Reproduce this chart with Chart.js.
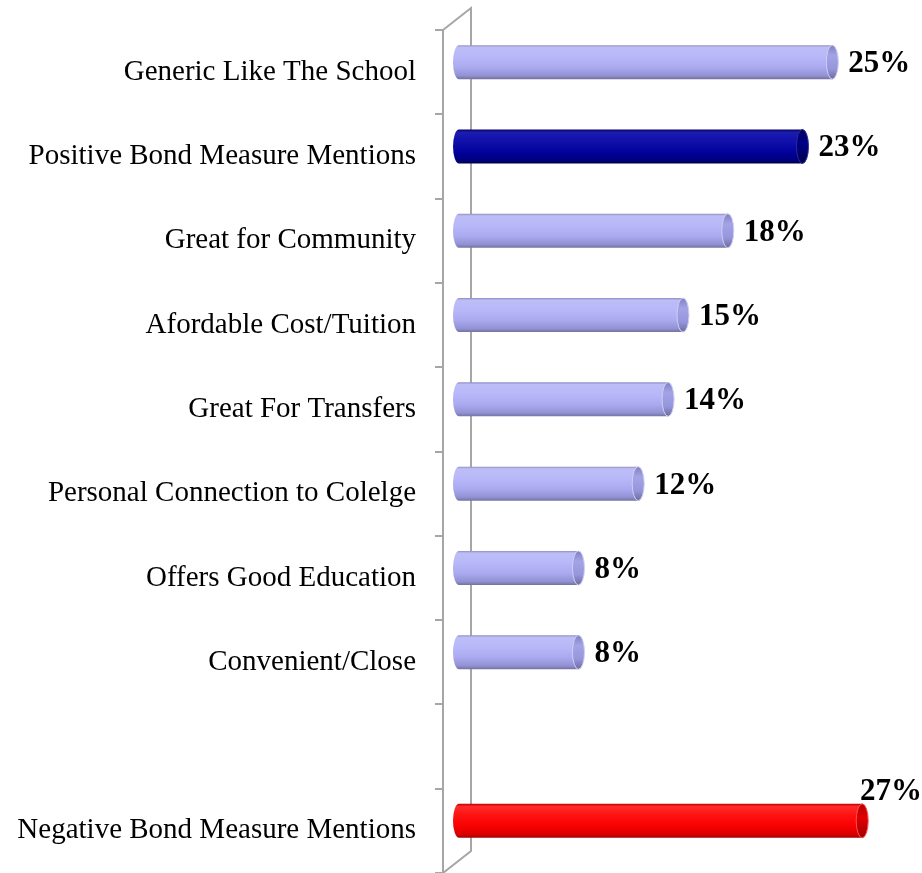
<!DOCTYPE html>
<html>
<head>
<meta charset="utf-8">
<script src="https://cdn.jsdelivr.net/npm/chart.js@4.4.1/dist/chart.umd.min.js"></script>
<style>
    html, body { margin: 0; padding: 0; background: #fff; overflow: hidden; }
    #wrap { width: 922px; height: 873px; position: relative; }
</style>
</head>
<body>
<div id="wrap"><canvas id="reasonsChart"></canvas></div>
<script>
// Reasons mentioned, share of respondents (%)
const categories = [
    'Generic Like The School',
    'Positive Bond Measure Mentions',
    'Great for Community',
    'Afordable Cost/Tuition',
    'Great For Transfers',
    'Personal Connection to Colelge',
    'Offers Good Education',
    'Convenient/Close',
    '',
    'Negative Bond Measure Mentions'
];
const shares = [25, 23, 18, 15, 14, 12, 8, 8, null, 27];

// Cylinder shading per tone
const SHADES = {
    light: {
        body: [[0, '#8e8ec4'], [0.06, '#bdbdf6'], [0.3, '#b9b9fa'], [0.65, '#abaaf0'], [0.9, '#9191d4'], [1, '#73739e']],
        cap: [[0, '#8080c0'], [0.3, '#a3a3e6'], [0.7, '#9696dc'], [1, '#6c6ca0']],
        rim: '#cfcff2'
    },
    navy: {
        body: [[0, '#000060'], [0.08, '#1c1cb0'], [0.35, '#1010aa'], [0.7, '#00009a'], [0.92, '#000078'], [1, '#00004a']],
        cap: [[0, '#00005a'], [0.4, '#000088'], [1, '#000048']],
        rim: '#2a2a99'
    },
    red: {
        body: [[0, '#c00000'], [0.08, '#ff2a2a'], [0.35, '#ff1010'], [0.7, '#f40000'], [0.92, '#d40000'], [1, '#a00000']],
        cap: [[0, '#b00000'], [0.4, '#e00000'], [1, '#a00000']],
        rim: '#ff5050'
    }
};
const barTone = {
    'Positive Bond Measure Mentions': 'navy',
    'Negative Bond Measure Mentions': 'red'
};

const BAR_PCT = 0.403;
const DEPTH_X = 16, DEPTH_Y = -10;   // bars sit inside the 3D wall
const WALL_X = 28, WALL_Y = -22;     // back edge of the wall
const CAP_RX = 6;
const LABEL_GAP = 10;
const WALL_COLOR = '#a6a6a6';

function toneFor(i) {
    return SHADES[barTone[categories[i]] || 'light'];
}

function vGradient(ctx, top, bottom, stops) {
    const g = ctx.createLinearGradient(0, top, 0, bottom);
    stops.forEach(([p, c]) => g.addColorStop(p, c));
    return g;
}

function barBounds(chart, i) {
    const y = chart.scales.y;
    const step = Math.abs(y.getPixelForValue(1) - y.getPixelForValue(0));
    const h = step * BAR_PCT;
    const c = y.getPixelForValue(i);
    return { top: c - h / 2, bottom: c + h / 2 };
}

const cylinderPlugin = {
    id: 'cylinders',
    beforeDatasetsDraw(chart) {
        const { ctx, chartArea: a } = chart;
        // back wall outline
        ctx.save();
        ctx.strokeStyle = WALL_COLOR;
        ctx.lineWidth = 2;
        ctx.beginPath();
        ctx.moveTo(a.left, a.top);
        ctx.lineTo(a.left + WALL_X, a.top + WALL_Y);
        ctx.lineTo(a.left + WALL_X, a.bottom + WALL_Y);
        ctx.lineTo(a.left, a.bottom);
        ctx.stroke();
        ctx.restore();

        ctx.save();
        ctx.translate(DEPTH_X, DEPTH_Y);
    },
    afterDatasetsDraw(chart) {
        const ctx = chart.ctx;
        const meta = chart.getDatasetMeta(0);
        meta.data.forEach((bar, i) => {
            if (shares[i] == null) return;
            const tone = toneFor(i);
            const { x, y, base, height } = bar.getProps(['x', 'y', 'base', 'height'], true);
            const top = y - height / 2, bottom = y + height / 2;
            // rounded back end
            ctx.fillStyle = vGradient(ctx, top, bottom, tone.body);
            ctx.beginPath();
            ctx.ellipse(base, y, CAP_RX, height / 2, 0, Math.PI / 2, Math.PI * 1.5);
            ctx.fill();
            // front cap
            ctx.fillStyle = vGradient(ctx, top, bottom, tone.cap);
            ctx.beginPath();
            ctx.ellipse(x, y, CAP_RX, height / 2, 0, 0, Math.PI * 2);
            ctx.fill();
            ctx.strokeStyle = tone.rim;
            ctx.lineWidth = 1;
            ctx.stroke();
        });
        ctx.restore();

        // value labels
        ctx.save();
        ctx.font = 'bold 31px "Liberation Serif", "Times New Roman", serif';
        ctx.fillStyle = '#000';
        ctx.textBaseline = 'middle';
        ctx.textAlign = 'left';
        meta.data.forEach((bar, i) => {
            if (shares[i] == null) return;
            const text = shares[i] + '%';
            const w = ctx.measureText(text).width;
            let tx = bar.x + DEPTH_X + CAP_RX + LABEL_GAP;
            let ty = bar.y + DEPTH_Y + 2;
            if (tx + w > chart.width) {
                // no room on the right: sit on top of the bar end
                tx = chart.width - w;
                ty = bar.y + DEPTH_Y - bar.height / 2 - 12;
            }
            ctx.fillText(text, tx, ty);
        });
        ctx.restore();
    }
};

new Chart(document.getElementById('reasonsChart'), {
    type: 'bar',
    data: {
        labels: categories,
        datasets: [{
            data: shares,
            backgroundColor: (c) => {
                const chart = c.chart;
                if (!chart.chartArea) return '#aaaaee';
                const b = barBounds(chart, c.dataIndex);
                return vGradient(chart.ctx, b.top, b.bottom, toneFor(c.dataIndex).body);
            },
            borderWidth: 0,
            barPercentage: BAR_PCT,
            categoryPercentage: 1,
            clip: false
        }]
    },
    options: {
        indexAxis: 'y',
        responsive: true,
        maintainAspectRatio: false,
        animation: false,
        layout: { padding: { top: 30, right: 31, bottom: 0, left: 0 } },
        plugins: {
            legend: { display: false },
            tooltip: { enabled: false }
        },
        scales: {
            x: { display: false, min: 0, max: 30 },
            y: {
                offset: true,
                afterFit: (s) => {
                    s.width = 443;
                    s.paddingTop = 0;
                    s.paddingBottom = 0;
                },
                grid: {
                    offset: true,
                    drawOnChartArea: false,
                    tickLength: 8,
                    color: WALL_COLOR,
                    lineWidth: 2
                },
                border: { display: true, color: WALL_COLOR, width: 2 },
                ticks: {
                    autoSkip: false,
                    padding: 19,
                    color: '#000',
                    font: { family: '"Liberation Serif", "Times New Roman", serif', size: 29 }
                }
            }
        }
    },
    plugins: [cylinderPlugin]
});
</script>
</body>
</html>
